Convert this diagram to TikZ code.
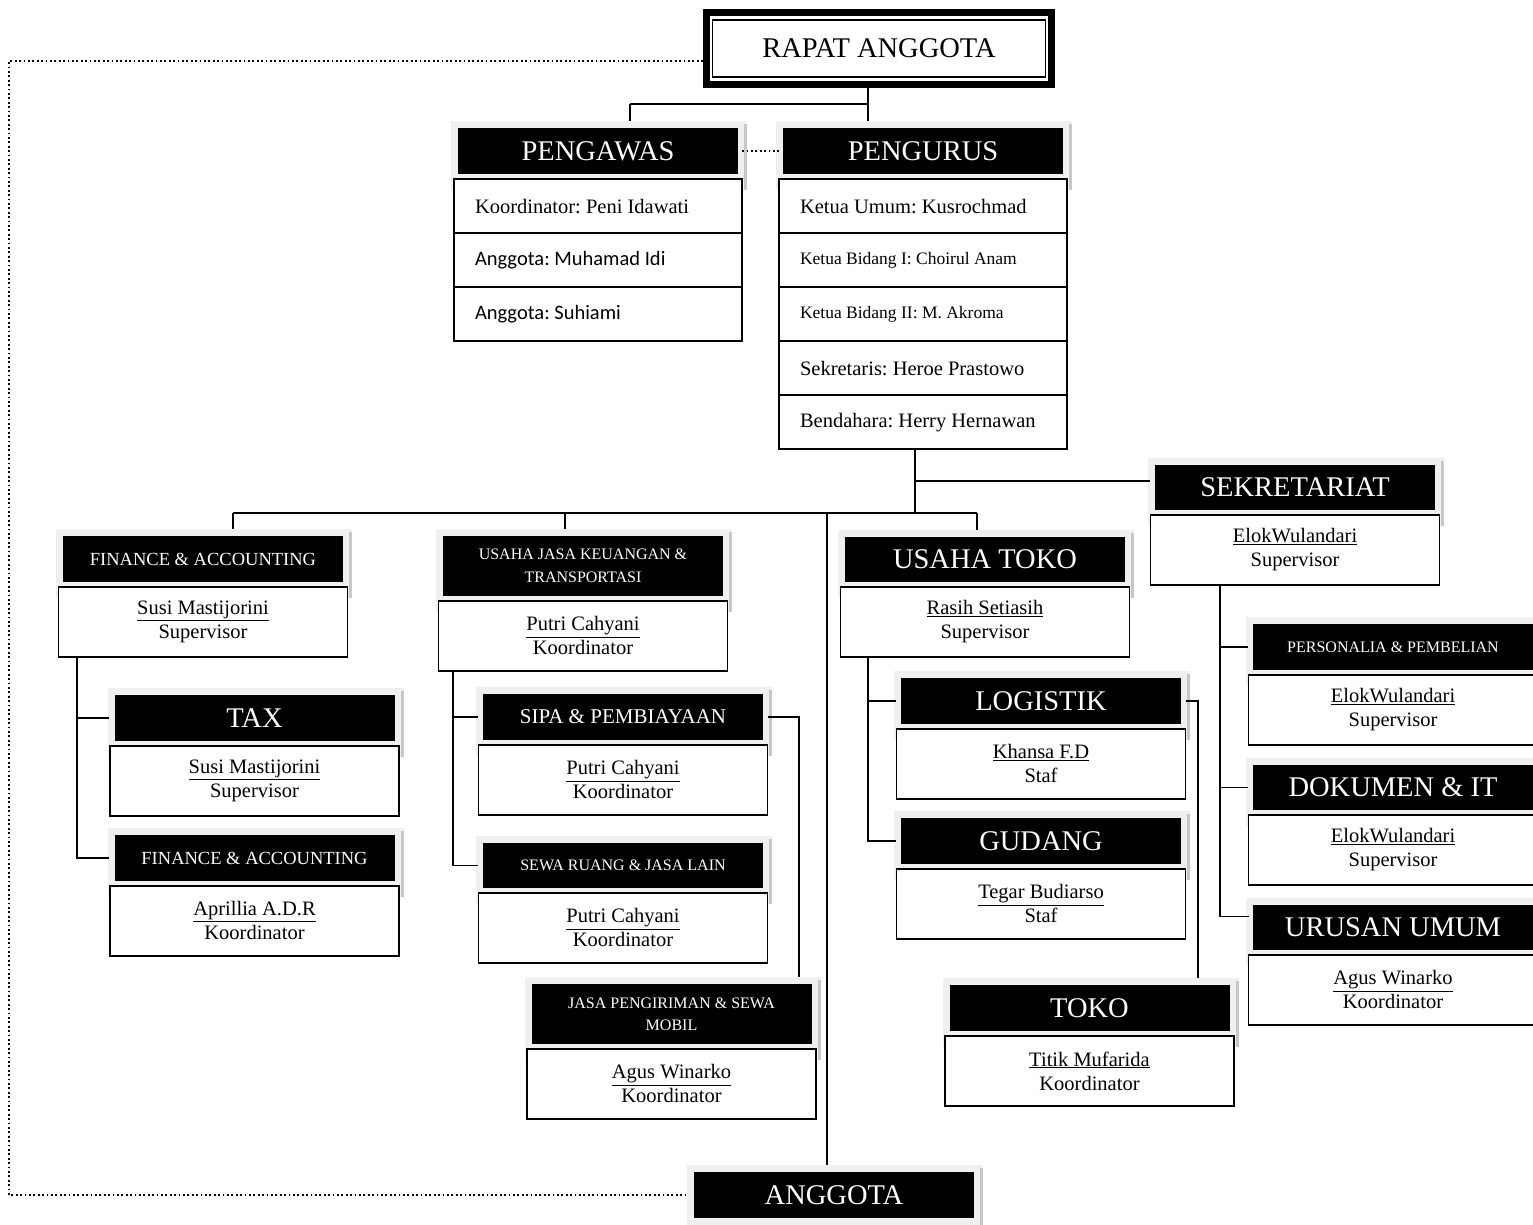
\documentclass[tikz,border=0pt]{standalone}
\usepackage{fontspec}
\setmainfont{Liberation Serif}
\newfontfamily\calibri{Carlito}
\usepackage{tikz}
\usetikzlibrary{positioning}
\usetikzlibrary{matrix}

\definecolor{shadelight}{gray}{0.94}
\definecolor{shadedark}{gray}{0.78}

\newcommand{\ttlbig}{\fontsize{28.5}{32}\selectfont}
\newcommand{\ttlmid}{\fontsize{21}{24}\selectfont}
\newcommand{\ttlfin}{\fontsize{18.5}{22}\selectfont}
\newcommand{\ttlsml}{\fontsize{16}{22.5}\selectfont}
\newcommand{\txtbody}{\fontsize{20.5}{24}\selectfont}

% grey frame behind a black title bar
\newcommand{\hdrbg}[3]{%
  \fill[shadelight] (#1-147,#2-7) rectangle (#1+149,#2+#3+16);
  \fill[shadedark] (#1+146,#2-4) rectangle (#1+149,#2+#3+16);
}
% title bar + box with name and function
\newcommand{\orgunit}[8]{%
  \hdrbg{#2}{#3}{#4}
  \node[hdr, minimum height=#4pt, font=#5] (#1) at (#2,#3+#4/2) {#6};
  \node[bodybox, below=4pt of #1] (#1-b) {\underline{#7}\\#8};
}

\begin{document}
\begin{tikzpicture}[
    x=1pt, y=-1pt,
    every node/.append style={execute at begin node={\frenchspacing\spaceskip=0pt\xspaceskip=0pt}},
    hdr/.style={fill=black, text=white, minimum width=280pt, inner sep=0pt, align=center},
    bodybox/.style={draw, line width=1.4pt, fill=white, minimum width=289pt, minimum height=70pt, inner sep=0pt, align=center, font=\txtbody},
    rowlist/.style={matrix of nodes, inner sep=0pt, row sep=-1.4pt, nodes={draw, line width=1.4pt, fill=white, text width=246pt, inner xsep=21pt, inner ysep=0pt, minimum height=54pt, align=left, font=\txtbody}},
    link/.style={line width=1.5pt},
    dotline/.style={line width=1.8pt, dash pattern=on 1.8pt off 2.6pt}
  ]

  \useasboundingbox (0,0) rectangle (1533,1225);
  \clip (0,0) rectangle (1533,1225);

  \node[draw, line width=7pt, minimum width=345pt, minimum height=72pt] (rapat) at (879,48.5) {};
  \node[draw, line width=1.6pt, minimum width=333pt, minimum height=57pt, font=\ttlbig] (rapat-in) at (rapat) {RAPAT ANGGOTA};

  \hdrbg{598}{128}{46}
  \node[hdr, minimum height=46pt, font=\ttlbig] (pengawas) at (598,151) {PENGAWAS};
  \matrix (pws) [rowlist, below=4pt of pengawas] {
    Koordinator: Peni Idawati \\
    |[font=\calibri\fontsize{20.5}{24}\selectfont]| Anggota: Muhamad Idi \\
    |[font=\calibri\fontsize{20.5}{24}\selectfont]| Anggota: Suhiami \\
  };

  \hdrbg{923}{128}{46}
  \node[hdr, minimum height=46pt, font=\ttlbig] (pengurus) at (923,151) {PENGURUS};
  \matrix (pgs) [rowlist, below=4pt of pengurus] {
    Ketua Umum: Kusrochmad \\
    |[font=\fontsize{17.5}{20}\selectfont]| Ketua Bidang I: Choirul Anam \\
    |[font=\fontsize{17.5}{20}\selectfont]| Ketua Bidang II: M. Akroma \\
    Sekretaris: Heroe Prastowo \\
    Bendahara: Herry Hernawan \\
  };

  \orgunit{finA}{203}{536}{46}{\ttlfin}{FINANCE \& ACCOUNTING}{Susi Mastijorini}{Supervisor}
  \orgunit{tax}{254.5}{695}{46}{\ttlbig}{TAX}{Susi Mastijorini}{Supervisor}
  \orgunit{finB}{254.5}{835}{46}{\ttlfin}{FINANCE \& ACCOUNTING}{Aprillia A.D.R}{Koordinator}
  \orgunit{ujk}{583}{536}{60}{\ttlsml}{USAHA JASA KEUANGAN \&\\TRANSPORTASI}{Putri Cahyani}{Koordinator}
  \orgunit{sipa}{623}{694}{46}{\ttlmid}{SIPA \& PEMBIAYAAN}{Putri Cahyani}{Koordinator}
  \orgunit{sewa}{623}{843}{45}{\ttlsml}{SEWA RUANG \& JASA LAIN}{Putri Cahyani}{Koordinator}
  \orgunit{jasa}{671.5}{984}{60}{\ttlsml}{JASA PENGIRIMAN \& SEWA\\MOBIL}{Agus Winarko}{Koordinator}
  \orgunit{utoko}{985}{537}{45}{\ttlbig}{USAHA TOKO}{Rasih Setiasih}{Supervisor}
  \orgunit{logi}{1041}{678}{46}{\ttlbig}{LOGISTIK}{Khansa F.D}{Staf}
  \orgunit{gdg}{1041}{818}{46}{\ttlbig}{GUDANG}{Tegar Budiarso}{Staf}
  \orgunit{toko}{1089.5}{985}{46}{\ttlbig}{TOKO}{Titik Mufarida}{Koordinator}
  \orgunit{sekr}{1295}{465}{45}{\ttlbig}{SEKRETARIAT}{ElokWulandari}{Supervisor}
  \orgunit{pers}{1393}{624}{46}{\ttlsml}{PERSONALIA \& PEMBELIAN}{ElokWulandari}{Supervisor}
  \orgunit{doku}{1393}{765}{45}{\ttlbig}{DOKUMEN \& IT}{ElokWulandari}{Supervisor}
  \orgunit{urus}{1393}{905}{45}{\ttlbig}{URUSAN UMUM}{Agus Winarko}{Koordinator}

  \hdrbg{834}{1172}{60}
  \node[hdr, minimum height=46pt, font=\ttlbig] (anggota) at (834,1195) {ANGGOTA};

  % top level
  \coordinate (t1) at (868,104);
  \coordinate (t2) at (630,104);
  \draw[link] (rapat.south -| t1) -- (t1) -- (t2);
  \draw[link, shorten >=7pt] (t2) -- (t2 |- pengawas.north);
  \draw[link, shorten >=7pt] (t1) -- (t1 |- pengurus.north);
  \draw[dotline, shorten <=4pt, shorten >=3pt] (pengawas.east) -- (pengurus.west);

  \coordinate (d1) at (9,61);
  \draw[dotline, shorten >=7pt] (rapat.west |- d1) -- (d1) |- (anggota.west);

  % below pengurus
  \coordinate (m1) at (915,481);
  \coordinate (m2) at (915,513);
  \draw[link] (pgs.south -| m1) -- (m2);
  \draw[link] (m1) -- (m1 -| sekr-b.west);

  \coordinate (b1) at (233,513);
  \coordinate (b2) at (565,513);
  \coordinate (b3) at (977,513);
  \coordinate (b4) at (827,513);
  \draw[link] (b1) -- (b3);
  \foreach \p/\u in {b1/finA, b2/ujk, b3/utoko, b4/anggota}
    \draw[link, shorten >=7pt] (\p) -- (\p |- \u.north);

  % sub units
  \coordinate (c1) at (77,0);
  \draw[link] (c1 |- finA-b.south) |- (finB-b.west |- finB);
  \draw[link] (c1 |- tax) -- (tax-b.west |- tax);

  \coordinate (c2) at (453,0);
  \draw[link] (c2 |- ujk-b.south) |- (sewa-b.west |- sewa);
  \draw[link] (c2 |- sipa) -- (sipa-b.west |- sipa);
  \coordinate (c3) at (799,0);
  \draw[link, shorten >=7pt] (sipa-b.east |- sipa) -| (c3 |- jasa.north);

  \coordinate (c4) at (868,0);
  \draw[link] (c4 |- utoko-b.south) |- (gdg-b.west |- gdg);
  \draw[link] (c4 |- logi) -- (logi-b.west |- logi);
  \coordinate (c5) at (1198,0);
  \draw[link, shorten >=7pt] (logi-b.east |- logi) -| (c5 |- toko.north);

  \coordinate (c6) at (1220,0);
  \draw[link] (c6 |- sekr-b.south) |- ([xshift=-4pt, yshift=11pt]urus.west);
  \draw[link] (c6 |- pers) -- (pers-b.west |- pers);
  \draw[link] (c6 |- doku) -- (doku-b.west |- doku);

\end{tikzpicture}
\end{document}
